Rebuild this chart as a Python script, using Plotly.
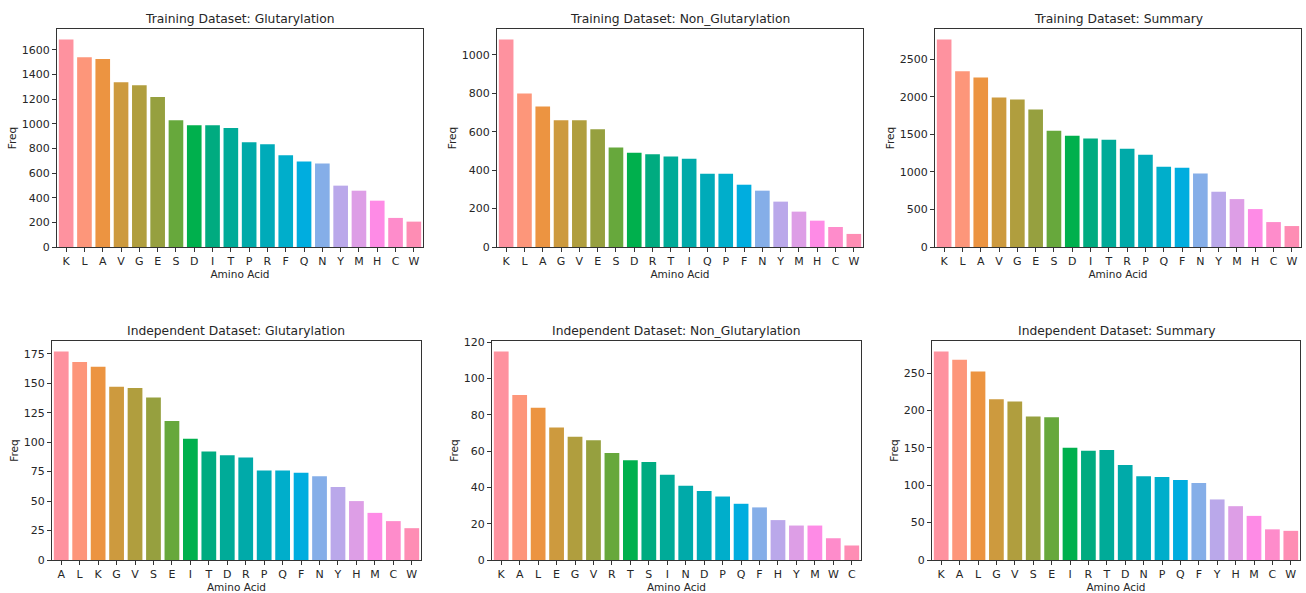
import plotly.graph_objects as go

W, H = 1306, 593

# ---- data ----
train_glut_aa = ["K","L","A","V","G","E","S","D","I","T","P","R","F","Q","N","Y","M","H","C","W"]
train_glut_freq = [1685,1540,1525,1337,1313,1218,1029,988,988,966,850,834,744,693,678,498,457,376,236,206]

train_nonglut_aa = ["K","L","A","G","V","E","S","D","R","T","I","Q","P","F","N","Y","M","H","C","W"]
train_nonglut_freq = [1080,799,731,659,659,612,518,490,482,471,459,381,381,324,293,236,184,137,104,68]

train_sum_aa = ["K","L","A","V","G","E","S","D","I","T","R","P","Q","F","N","Y","M","H","C","W"]
train_sum_freq = [2765,2339,2256,1990,1964,1830,1547,1480,1445,1428,1308,1228,1068,1055,980,736,638,505,332,279]

indep_glut_aa = ["A","L","K","G","V","S","E","I","T","D","R","P","Q","F","N","Y","H","M","C","W"]
indep_glut_freq = [177,168,164,147,146,138,118,103,92,89,87,76,76,74,71,62,50,40,33,27]

indep_nonglut_aa = ["K","A","L","E","G","V","R","T","S","I","N","D","P","Q","F","H","Y","M","W","C"]
indep_nonglut_freq = [115,91,84,73,68,66,59,55,54,47,41,38,35,31,29,22,19,19,12,8]

indep_sum_aa = ["K","A","L","G","V","S","E","I","R","T","D","N","P","Q","F","Y","H","M","C","W"]
indep_sum_freq = [279,268,252,215,212,192,191,150,146,147,127,112,111,107,103,81,72,59,41,39]

titles = ["Training Dataset: Glutarylation", "Training Dataset: Non_Glutarylation",
          "Training Dataset: Summary", "Independent Dataset: Glutarylation",
          "Independent Dataset: Non_Glutarylation", "Independent Dataset: Summary"]
dticks = [200, 200, 500, 25, 20, 50]

palette = ["#fe929f","#fd967a","#ec9441","#cd9a3e","#b09e3e","#96a03f","#67a83c","#00b04d",
           "#00ab80","#00ab98","#00aaa9","#00abb9","#00aecb","#00addf","#85aee8","#baa8ea",
           "#dd9ee6","#fe8be6","#fe8ccb","#fe8db4"]

panels = [
    (train_glut_aa, train_glut_freq),
    (train_nonglut_aa, train_nonglut_freq),
    (train_sum_aa, train_sum_freq),
    (indep_glut_aa, indep_glut_freq),
    (indep_nonglut_aa, indep_nonglut_freq),
    (indep_sum_aa, indep_sum_freq),
]

# plot-area boxes in pixels (left, right, top, bottom)
boxes = [
    (57, 423, 29, 247),
    (497, 863, 29, 247),
    (935, 1301, 29, 247),
    (52, 421, 341, 560),
    (492, 861, 341, 560),
    (932, 1300, 341, 560),
]

FONT = "DejaVu Sans"
TXT = "#262626"

fig = go.Figure()
layout = dict(
    width=W, height=H, margin=dict(l=0, r=0, t=0, b=0, autoexpand=False),
    paper_bgcolor="white", plot_bgcolor="white", showlegend=False,
    bargap=0.2, font=dict(family=FONT, size=11, color=TXT),
)
annotations = []

for i, ((aa, freq), (l, r, t, b)) in enumerate(zip(panels, boxes)):
    n = i + 1
    xa = "x" if n == 1 else f"x{n}"
    ya = "y" if n == 1 else f"y{n}"
    fig.add_trace(go.Bar(
        x=list(range(len(aa))), y=freq, xaxis=xa, yaxis=ya,
        marker=dict(color=palette[:len(aa)], line=dict(width=0)),
        width=0.8, hovertext=aa,
    ))
    xd = [l / W, r / W]
    yd = [1 - b / H, 1 - t / H]
    common = dict(showline=True, mirror=True, linecolor="#333333", linewidth=1,
                  ticks="outside", ticklen=4, tickcolor="#333333", showgrid=False,
                  zeroline=False, automargin=False,
                  tickfont=dict(family=FONT, size=11, color=TXT))
    layout["xaxis" if n == 1 else f"xaxis{n}"] = dict(
        domain=xd, anchor=ya, range=[-0.5, len(aa) - 0.5],
        tickmode="array", tickvals=list(range(len(aa))), ticktext=aa,
        title=dict(text="Amino Acid", font=dict(family=FONT, size=10.5, color=TXT), standoff=1),
        **common)
    layout["yaxis" if n == 1 else f"yaxis{n}"] = dict(
        domain=yd, anchor=xa, range=[0, max(freq) * 1.05], dtick=dticks[i], tick0=0,
        title=dict(text="Freq", font=dict(family=FONT, size=10.5, color=TXT), standoff=3),
        **common)
    annotations.append(dict(
        text=titles[i], xref="paper", yref="paper",
        x=(l + r) / 2 / W, y=1 - (t - 1) / H, xanchor="center", yanchor="bottom",
        showarrow=False, font=dict(family=FONT, size=12.3, color=TXT)))

layout["annotations"] = annotations
fig.update_layout(**layout)
fig.write_html(
    "out.html",
    config={"displayModeBar": False},
    post_script="document.body.style.margin='0';document.body.style.padding='0';"
                "document.documentElement.style.overflow='hidden';",
)
